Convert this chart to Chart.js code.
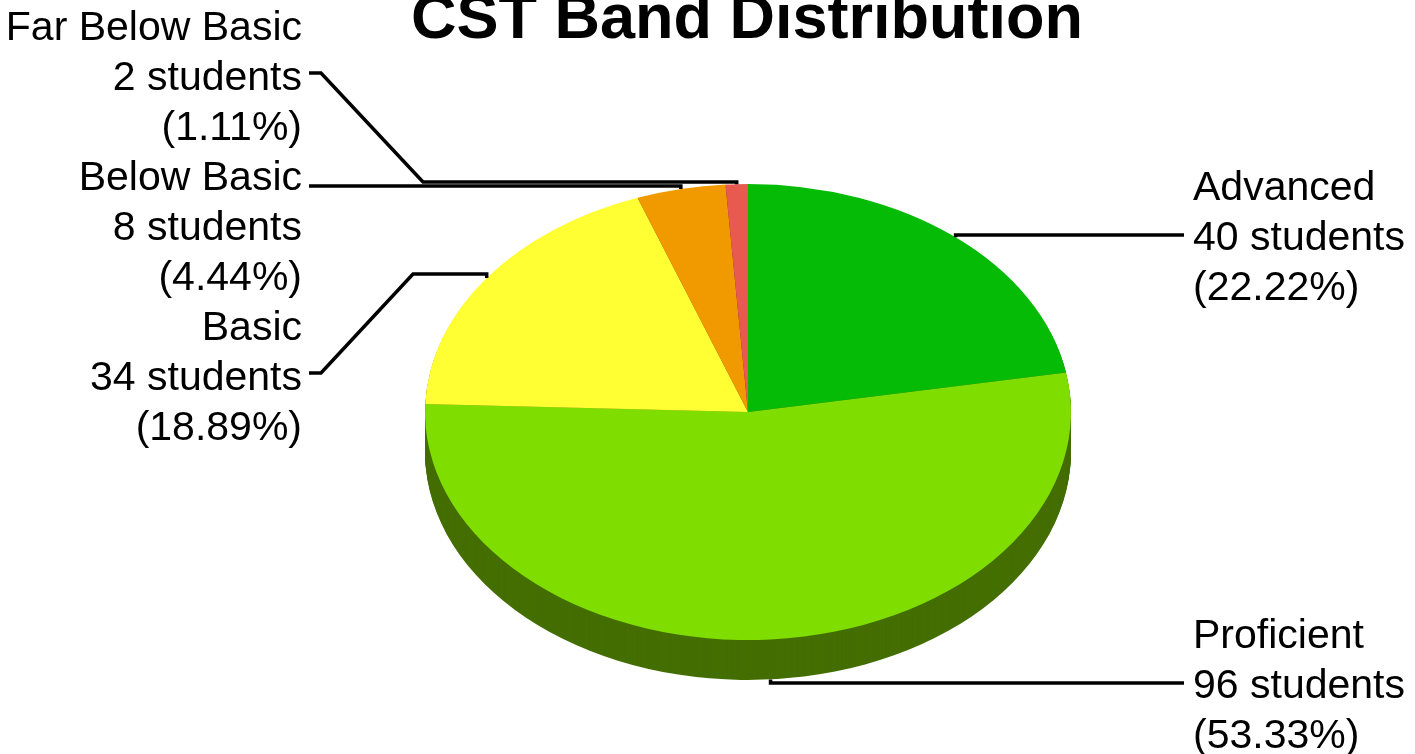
<!DOCTYPE html>
<html><head><meta charset="utf-8">
<script src="https://cdn.jsdelivr.net/npm/chart.js@4.4.1/dist/chart.umd.min.js"></script>
<style>html,body{margin:0;padding:0;background:#fff;overflow:hidden}#wrap{width:1415px;height:754px;position:relative}</style>
</head><body><div id="wrap"><canvas id="c"></canvas></div>
<script>
// ---- data ----
const chartTitle = 'CST Band Distribution';
const categories = ['Advanced', 'Proficient', 'Basic', 'Below Basic', 'Far Below Basic'];
const students = [40, 96, 34, 8, 2];
const topColors = ['#05BB05', '#80DD00', '#FFFF33', '#F09A00', '#E85A50'];
const sideColors = ['#036003', '#446E00', '#80801A', '#784D00', '#742D28'];

// ---- layout (annotation placement, not data) ----
const TILT = 228 / 323;
const DEPTH = 40;
const LINE_H = 50;
const labelLayout = [
  {x: 1193, align: 'left',  y0: 200, wall: false, elbows: [[1184, 235]]},
  {x: 1193, align: 'left',  y0: 648, wall: true,  elbows: [[1184, 683]]},
  {x: 302,  align: 'right', y0: 340, wall: false, elbows: [[413, 274], [321, 373], [309, 373]]},
  {x: 302,  align: 'right', y0: 190, wall: false, elbows: [[309, 186]]},
  {x: 302,  align: 'right', y0: 40,  wall: false, elbows: [[423, 182], [321, 73], [309, 73]]}
];

const total = students.reduce((a, b) => a + b, 0);

const pie3d = {
  id: 'pie3d',
  beforeDatasetsDraw(chart) {
    const ctx = chart.ctx;
    const arcs = chart.getDatasetMeta(0).data;
    const cx = arcs[0].x, cy = arcs[0].y;
    ctx.save();
    ctx.translate(cx, cy); ctx.scale(1, TILT); ctx.translate(-cx, -cy);
    for (let d = DEPTH; d >= 1; d--) {
      const off = d / TILT;
      arcs.forEach((a, i) => {
        ctx.beginPath();
        ctx.moveTo(a.x, a.y + off);
        ctx.arc(a.x, a.y + off, a.outerRadius, a.startAngle, a.endAngle);
        ctx.closePath();
        ctx.fillStyle = sideColors[i];
        ctx.fill();
      });
    }
  },
  afterDatasetsDraw(chart) { chart.ctx.restore(); }
};

const labelsPlugin = {
  id: 'labels3d',
  afterDraw(chart) {
    const ctx = chart.ctx;
    const arcs = chart.getDatasetMeta(0).data;
    ctx.save();
    // title
    ctx.fillStyle = '#000';
    ctx.font = 'bold 63px "Liberation Sans", Arial, sans-serif';
    ctx.textAlign = 'center';
    ctx.textBaseline = 'alphabetic';
    ctx.fillText(chartTitle, 747, 38);
    // labels
    ctx.font = '41px "Liberation Sans", Arial, sans-serif';
    ctx.strokeStyle = '#000';
    ctx.lineWidth = 3.5;
    arcs.forEach((a, i) => {
      const L = labelLayout[i];
      const mid = (a.startAngle + a.endAngle) / 2;
      const ax = a.x + a.outerRadius * Math.cos(mid);
      const ay = a.y + a.outerRadius * Math.sin(mid) * TILT + (L.wall ? DEPTH : 0);
      ctx.beginPath();
      ctx.moveTo(ax, ay);
      ctx.lineTo(ax, L.elbows[0][1]);
      L.elbows.forEach(p => ctx.lineTo(p[0], p[1]));
      ctx.stroke();
      const pct = (students[i] / total * 100).toFixed(2);
      const lines = [categories[i], students[i] + ' students', '(' + pct + '%)'];
      ctx.textAlign = L.align;
      lines.forEach((t, k) => ctx.fillText(t, L.x, L.y0 + k * LINE_H));
    });
    ctx.restore();
  }
};

new Chart(document.getElementById('c'), {
  type: 'pie',
  data: {
    labels: categories,
    datasets: [{data: students, backgroundColor: topColors, borderWidth: 0, hoverOffset: 0}]
  },
  options: {
    responsive: true,
    maintainAspectRatio: false,
    animation: false,
    events: [],
    layout: {padding: {left: 425, right: 344, top: 89, bottom: 19}},
    plugins: {legend: {display: false}, tooltip: {enabled: false}, title: {display: false}}
  },
  plugins: [pie3d, labelsPlugin]
});
</script>
</body></html>
